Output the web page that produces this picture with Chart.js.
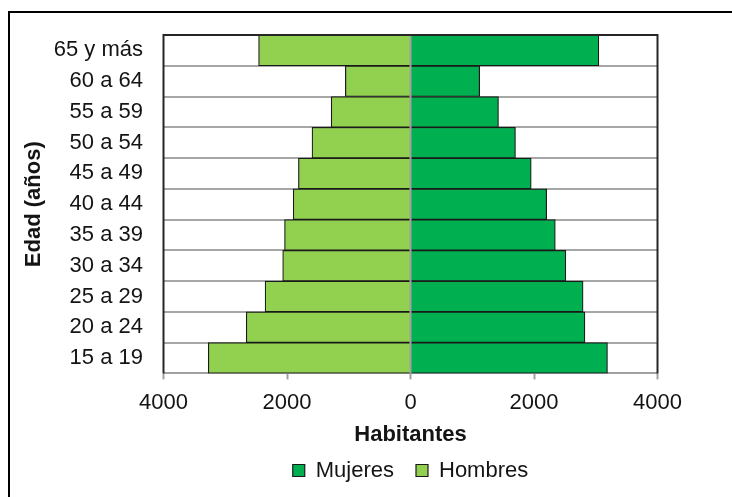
<!DOCTYPE html>
<html>
<head>
<meta charset="utf-8">
<script src="https://cdn.jsdelivr.net/npm/chart.js@4"></script>
<style>
  html, body { margin: 0; padding: 0; background: #fff; overflow: hidden; width: 732px; height: 497px; }
  #frame { position: absolute; left: 8px; top: 11px; width: 760px; height: 520px; border: 2px solid #000; }
  #c { position: absolute; left: 0; top: 0; }
</style>
</head>
<body>
<div id="frame"></div>
<canvas id="c" width="732" height="497"></canvas>
<script>
const categories = ['65 y más','60 a 64','55 a 59','50 a 54','45 a 49','40 a 44','35 a 39','30 a 34','25 a 29','20 a 24','15 a 19'];
const mujeres = [3050, 1120, 1425, 1700, 1955, 2205, 2345, 2515, 2795, 2825, 3190];
const hombres = [2460, 1055, 1285, 1595, 1815, 1900, 2040, 2070, 2355, 2660, 3275];
const xTicks = [-4000, -2000, 0, 2000, 4000];
const seriesNames = ['Mujeres', 'Hombres'];
const xTitle = 'Habitantes';
const yTitle = 'Edad (años)';

const FONT = "'Liberation Sans', Arial, sans-serif";
const TEXT = '#141414';

const framePlugin = {
  id: 'frameLines',
  afterDatasetsDraw(chart) {
    const {ctx, chartArea: a, scales: {x}} = chart;
    const zx = x.getPixelForValue(0);
    ctx.save();
    ctx.strokeStyle = '#a0a0a0';
    ctx.lineWidth = 2;
    ctx.beginPath();
    ctx.moveTo(zx, a.top);
    ctx.lineTo(zx, a.bottom);
    ctx.stroke();
    ctx.strokeStyle = '#262626';
    ctx.lineWidth = 2;
    ctx.beginPath();
    ctx.moveTo(a.left, a.bottom);
    ctx.lineTo(a.left, a.top);
    ctx.lineTo(a.right, a.top);
    ctx.lineTo(a.right, a.bottom);
    ctx.stroke();
    ctx.restore();
  }
};

new Chart(document.getElementById('c'), {
  type: 'bar',
  data: {
    labels: categories,
    datasets: [
      {
        label: seriesNames[0],
        data: mujeres,
        backgroundColor: '#00B050',
        borderColor: '#1a1a1a',
        borderWidth: 1.2
      },
      {
        label: seriesNames[1],
        data: hombres.map(v => -v),
        backgroundColor: '#92D050',
        borderColor: '#1a1a1a',
        borderWidth: 1.2
      }
    ]
  },
  options: {
    indexAxis: 'y',
    responsive: false,
    animation: false,
    maintainAspectRatio: false,
    layout: { padding: { left: 0, right: 74.5, top: 35, bottom: 5.5 } },
    datasets: { bar: { barPercentage: 1, categoryPercentage: 1 } },
    scales: {
      x: {
        stacked: true,
        min: -4000,
        max: 4000,
        afterBuildTicks: s => { s.ticks = xTicks.map(v => ({ value: v })); },
        ticks: {
          callback: v => String(Math.abs(v)),
          font: { family: FONT, size: 22 },
          color: TEXT,
          padding: 10,
          maxRotation: 0
        },
        grid: {
          drawOnChartArea: false,
          drawTicks: true,
          tickLength: 6,
          tickColor: '#a0a0a0',
          tickWidth: 2
        },
        border: { display: true, color: '#a0a0a0', width: 2 },
        title: {
          display: true,
          text: xTitle,
          font: { family: FONT, size: 22, weight: 'bold' },
          color: TEXT,
          padding: { top: -4.5, bottom: -10.2 }
        }
      },
      y: {
        stacked: true,
        afterFit: s => { s.width = 163.5; },
        ticks: {
          font: { family: FONT, size: 22 },
          color: TEXT,
          padding: 20.5
        },
        grid: {
          color: '#a6a6a6',
          lineWidth: 2,
          drawTicks: false
        },
        border: { display: false },
        title: {
          display: true,
          text: yTitle,
          font: { family: FONT, size: 22, weight: 'bold' },
          color: TEXT,
          padding: { top: 20.8, bottom: 0 }
        }
      }
    },
    plugins: {
      legend: {
        position: 'bottom',
        fullSize: false,
        labels: {
          boxWidth: 12,
          boxHeight: 12,
          padding: 22,
          font: { family: FONT, size: 22 },
          color: TEXT
        }
      },
      tooltip: { enabled: false }
    }
  },
  plugins: [framePlugin]
});
</script>
</body>
</html>
